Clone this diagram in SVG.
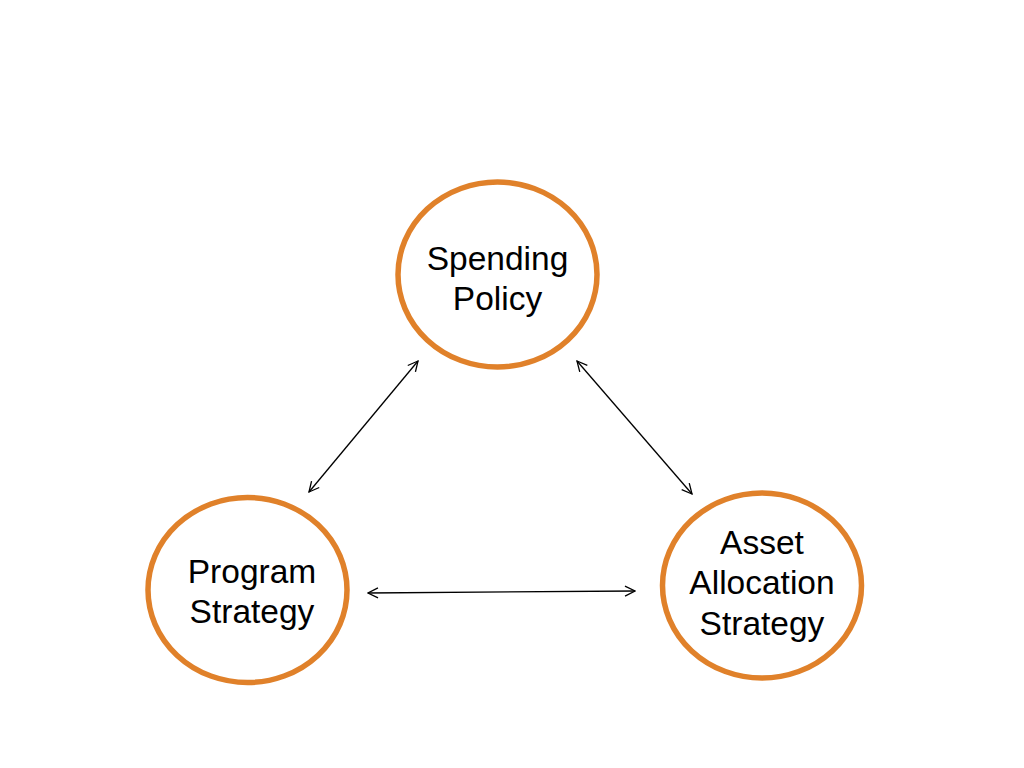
<svg xmlns="http://www.w3.org/2000/svg" width="1024" height="768" viewBox="0 0 1024 768">
<defs>
<style>
.node{fill:#fff;stroke:#E0812A;stroke-width:5.5}
.lbl{font-family:"Liberation Sans",Arial,sans-serif;font-size:33.5px;fill:#000;text-anchor:middle}
.conn{stroke:#000;stroke-width:1.3;fill:none;marker-start:url(#ah);marker-end:url(#ah)}
</style>
<marker id="ah" viewBox="0 0 12 12" refX="11" refY="6" markerWidth="12" markerHeight="12" markerUnits="userSpaceOnUse" orient="auto-start-reverse">
<path d="M1,1 L11,6 L1,11" fill="none" stroke="#000" stroke-width="1.3"/>
</marker>
</defs>
<rect width="1024" height="768" fill="#fff"/>
<g id="connectors">
<line class="conn" x1="418" y1="361" x2="309" y2="492"/>
<line class="conn" x1="577" y1="361" x2="692" y2="494"/>
<line class="conn" x1="368" y1="593" x2="635" y2="591"/>
</g>
<g id="spending-policy">
<ellipse class="node" cx="497.5" cy="274.5" rx="99.5" ry="92.5"/>
<text class="lbl" x="497.5" y="270">Spending</text>
<text class="lbl" x="497.5" y="310">Policy</text>
</g>
<g id="program-strategy">
<ellipse class="node" cx="247.5" cy="590" rx="99.5" ry="92.5"/>
<text class="lbl" x="252" y="583">Program</text>
<text class="lbl" x="252" y="623">Strategy</text>
</g>
<g id="asset-allocation-strategy">
<ellipse class="node" cx="762" cy="585.5" rx="99.5" ry="92.5"/>
<text class="lbl" x="762" y="554">Asset</text>
<text class="lbl" x="762" y="594">Allocation</text>
<text class="lbl" x="762" y="635">Strategy</text>
</g>
</svg>
